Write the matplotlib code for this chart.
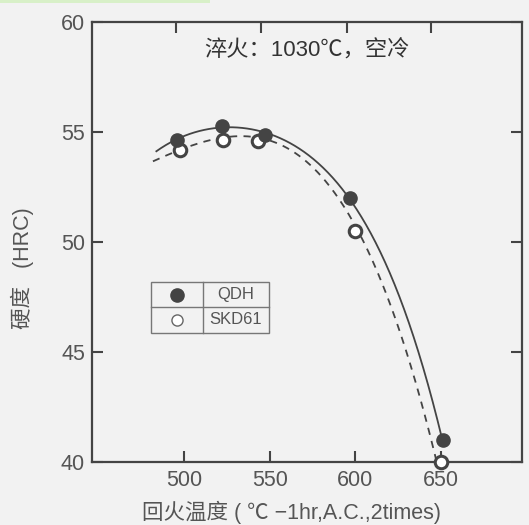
import numpy as np
import matplotlib
matplotlib.use("Agg")
import matplotlib.pyplot as plt
from matplotlib.lines import Line2D
from matplotlib.patches import Rectangle

plt.rcParams['font.family'] = ['Liberation Sans', 'Noto Sans CJK SC', 'DejaVu Sans']

# data
qdh_T = [496, 522, 547, 597, 651]
qdh_H = [54.65, 55.28, 54.87, 52.0, 41.0]
skd_T = [498, 523, 543, 600, 650]
skd_H = [54.2, 54.65, 54.6, 50.48, 40.0]

# trend-curve guide points
qdh_curve_T = [484, 500, 532, 567, 587, 597, 625, 650]
qdh_curve_H = [54.15, 54.75, 55.28, 54.2, 52.8, 52.05, 47.6, 41.2]
skd_curve_T = [482, 500, 530, 557, 567, 600, 647]
skd_curve_H = [53.65, 54.3, 54.75, 54.4, 53.97, 50.7, 40.1]

xticks = [500, 550, 600, 650]
yticks = [40, 45, 50, 55, 60]
title = "淬火：1030℃，空冷"
xlabel = "回火温度 ( ℃ −1hr,A.C.,2times)"
ylabel = "硬度   (HRC)"
legend_names = ["QDH", "SKD61"]

bg = '#f2f2f2'
dark = '#444444'
txt = '#555555'

W, H = 529, 525
fig = plt.figure(figsize=(W/100, H/100), dpi=100, facecolor=bg)
ax = fig.add_axes([92/W, 1-462/H, (522-92)/W, (462-22)/H])
ax.set_facecolor(bg)

# trend curves
p1 = np.polyfit(qdh_curve_T, qdh_curve_H, 4)
t1 = np.linspace(qdh_curve_T[0], qdh_curve_T[-1], 300)
ax.plot(t1, np.polyval(p1, t1), color=dark, lw=1.3, zorder=2)
p2 = np.polyfit(skd_curve_T, skd_curve_H, 4)
t2 = np.linspace(skd_curve_T[0], skd_curve_T[-1], 300)
ax.plot(t2, np.polyval(p2, t2), color=dark, lw=1.3, ls=(0, (4, 3.5)), zorder=2)

ax.plot(skd_T, skd_H, 'o', ms=9, mfc='white', mec=dark, mew=2.2, zorder=4, clip_on=False)
ax.plot(qdh_T, qdh_H, 'o', ms=9.5, mfc=dark, mec=dark, zorder=5, clip_on=False)

ax.set_xlim(446.5, 697)
ax.set_ylim(40, 60)
ax.set_xticks(xticks)
ax.set_yticks(yticks)
ax.tick_params(direction='in', length=8, width=1.5, color=dark, labelsize=15.5,
               labelcolor=txt, right=True, pad=5)
ax.tick_params(axis='x', pad=6)
for s in ax.spines.values():
    s.set_color(dark)
    s.set_linewidth(1.6)

# top ticks (offset in original)
top = ax.secondary_xaxis('top')
top.set_xticks([495.3, 544.8, 594.8, 644.2])
top.tick_params(direction='in', length=8, width=1.5, color=dark, labeltop=False)
top.spines['top'].set_visible(False)

ax.set_xlabel(xlabel, fontsize=15.5, color=txt)
ax.xaxis.set_label_coords(0.463, -0.088)
ax.set_ylabel(ylabel, fontsize=15.5, color=txt)
ax.yaxis.set_label_coords(-0.135, 0.44)

ax.text(0.50, 0.935, title, transform=ax.transAxes, ha='center', va='center',
        fontsize=16, color='#333333')

# legend table in figure pixels
def fx(x): return x / W
def fy(y): return 1 - y / H
lx0, lx1, ldiv = 151, 269, 203
ly0, lmid, ly1 = 282, 307, 333
fig.patches.append(Rectangle((fx(lx0), fy(ly1)), fx(lx1) - fx(lx0), fy(ly0) - fy(ly1),
                             transform=fig.transFigure, fill=False, ec='#777777', lw=1.0))
fig.lines.append(Line2D([fx(lx0), fx(lx1)], [fy(lmid), fy(lmid)], transform=fig.transFigure,
                        color='#777777', lw=1.0))
fig.lines.append(Line2D([fx(ldiv), fx(ldiv)], [fy(ly0), fy(ly1)], transform=fig.transFigure,
                        color='#777777', lw=1.0))
fig.lines.append(Line2D([fx(177)], [fy(295)], transform=fig.transFigure, marker='o',
                        ms=9.5, mfc=dark, mec=dark, ls='none'))
fig.lines.append(Line2D([fx(177)], [fy(320)], transform=fig.transFigure, marker='o',
                        ms=8, mfc='white', mec='#666666', mew=1.0, ls='none'))
fig.text(fx(236), fy(295), legend_names[0], ha='center', va='center', fontsize=12, color=txt)
fig.text(fx(236), fy(320), legend_names[1], ha='center', va='center', fontsize=12, color=txt)

# light green strip at top-left
fig.patches.append(Rectangle((0, 1 - 3/H), 210/W, 3/H, transform=fig.transFigure,
                             color='#d8f0c8', lw=0))

fig.savefig('out.png', dpi=100, facecolor=bg)
